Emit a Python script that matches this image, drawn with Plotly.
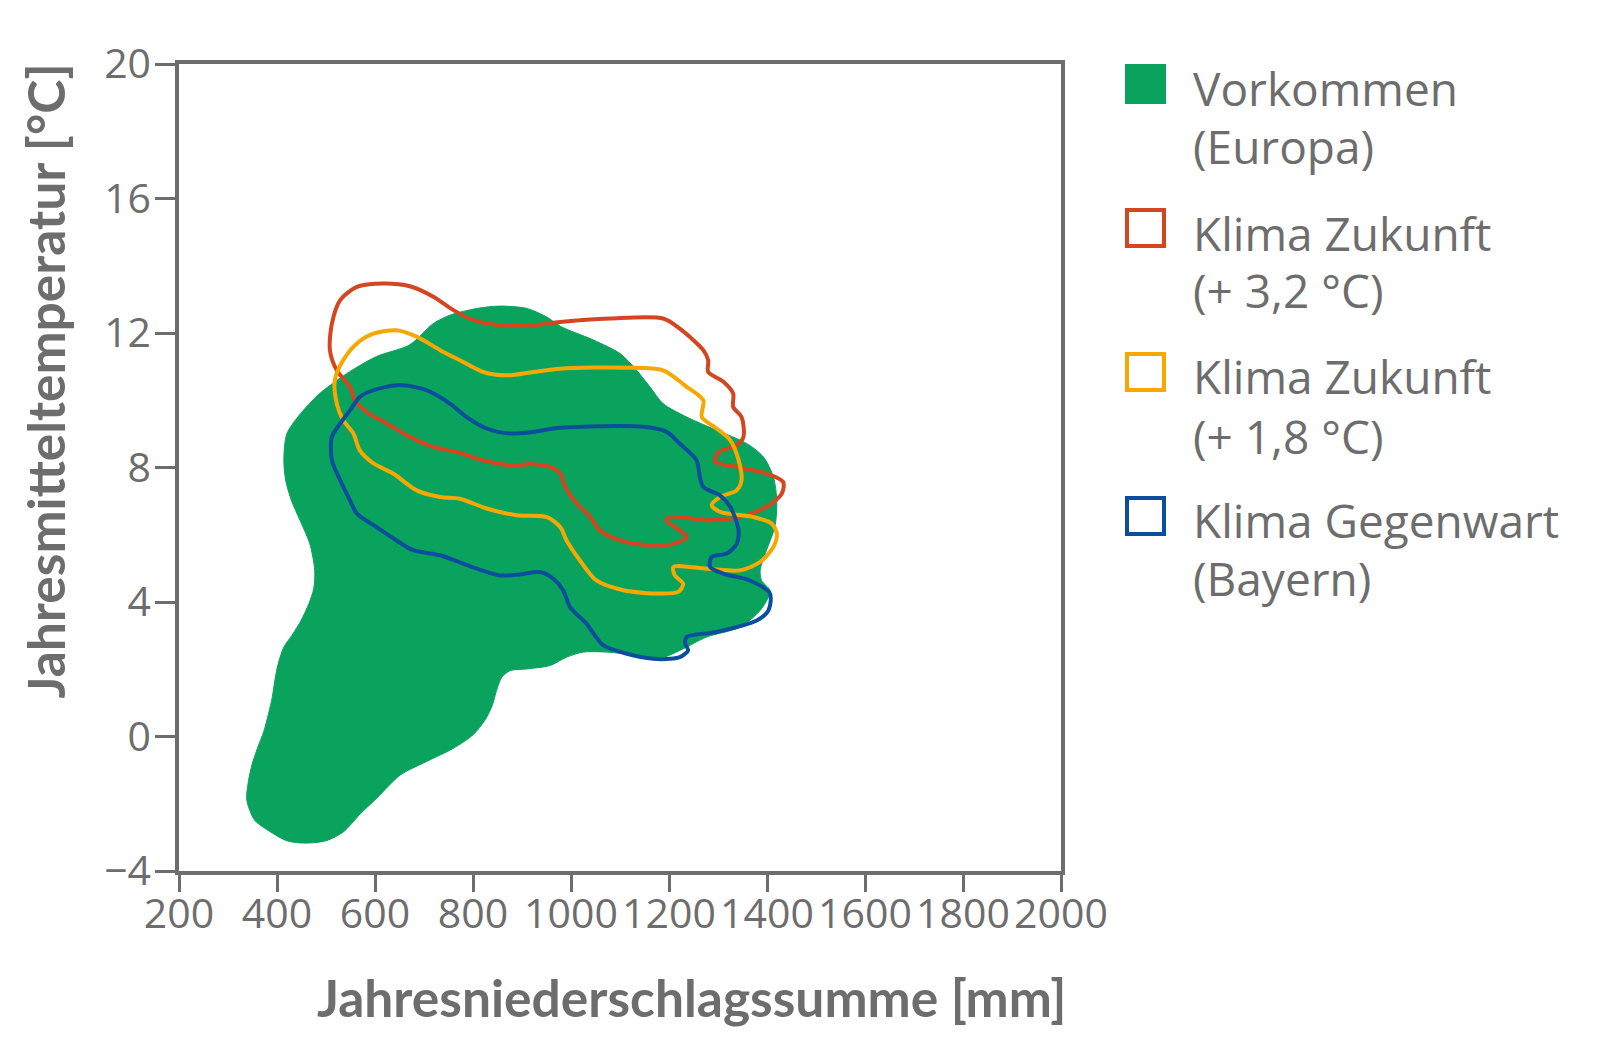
import plotly.graph_objects as go

# ---- data: annual precipitation [mm] and mean annual temperature [°C] ----
vork_mm = [855, 910, 950, 978, 1046, 1100, 1134, 1161, 1188, 1236, 1297, 1359, 1393, 1413, 1420, 1416, 1399, 1386, 1389, 1406,
           1403, 1386, 1345, 1277, 1222, 1188, 1141, 1073, 1025, 991, 957, 910, 876, 859, 848, 840, 825, 800, 760, 700,
           652, 604, 570, 536, 500, 454, 420, 386, 355, 342, 338, 342, 349, 360, 373, 383, 390, 396, 402, 414,
           430, 448, 465, 475, 477, 467, 447, 430, 418, 414, 420, 448, 487, 542, 603, 671, 719, 753, 808]
vork_t = [12.80, 12.73, 12.48, 12.2, 11.79, 11.39, 10.89, 10.40, 9.90, 9.50, 9.11, 8.71, 8.31, 7.72, 7.02, 6.23, 5.54, 4.94, 4.64, 4.35,
          4.15, 3.75, 3.25, 2.96, 2.56, 2.36, 2.41, 2.51, 2.51, 2.36, 2.11, 2.01, 1.96, 1.77, 1.37, 0.95, 0.5, 0.05, -0.35, -0.78,
          -1.14, -1.83, -2.3, -2.83, -3.1, -3.17, -3.1, -2.83, -2.5, -2.1, -1.83, -1.3, -0.84, -0.35, 0.15, 0.7, 1.14, 1.7, 2.14, 2.66,
          3.0, 3.42, 3.95, 4.4, 4.94, 5.73, 6.43, 7.0, 7.6, 8.21, 9.0, 9.60, 10.2, 10.79, 11.3, 11.65, 12.28, 12.53, 12.73]

z32_mm = [563, 617, 671, 719, 760, 801, 855, 923, 978, 1080, 1188, 1222, 1270, 1280, 1280, 1311, 1331, 1331, 1348, 1352,
          1338, 1301, 1294, 1338, 1399, 1433, 1430, 1399, 1345, 1284, 1202, 1195, 1222, 1236, 1209, 1161, 1100, 1059, 1039, 1012,
          988, 978, 957, 923, 876, 821, 767, 719, 671, 624, 583, 559, 549, 522, 508, 512, 529]
z32_t = [13.37, 13.47, 13.39, 13.08, 12.68, 12.38, 12.23, 12.23, 12.33, 12.43, 12.43, 12.13, 11.49, 11.19, 10.84, 10.55, 10.2, 9.80, 9.50, 8.91,
         8.66, 8.46, 8.17, 8.02, 7.82, 7.57, 7.22, 6.83, 6.53, 6.43, 6.53, 6.43, 6.13, 5.93, 5.73, 5.69, 5.83, 6.13, 6.53, 6.93,
         7.42, 7.82, 8.02, 8.10, 8.07, 8.21, 8.46, 8.61, 8.91, 9.31, 9.65, 10.00, 10.40, 10.89, 11.49, 12.28, 12.98]

z18_mm = [644, 685, 733, 773, 821, 869, 923, 978, 1114, 1188, 1236, 1270, 1267, 1297, 1325, 1342, 1348, 1338, 1304, 1287,
          1304, 1372, 1410, 1420, 1413, 1386, 1345, 1277, 1209, 1212, 1229, 1219, 1182, 1107, 1052, 1018, 991, 978, 950, 889,
          828, 773, 733, 685, 637, 597, 569, 556, 535, 522, 518, 535, 563, 597]
z18_t = [12.08, 11.89, 11.49, 11.19, 10.84, 10.74, 10.84, 10.94, 10.97, 10.89, 10.40, 10.0, 9.50, 9.16, 8.81, 8.22, 7.62, 7.32, 7.12, 6.88,
         6.68, 6.53, 6.33, 6.03, 5.64, 5.19, 4.94, 4.99, 5.04, 4.79, 4.54, 4.30, 4.25, 4.35, 4.64, 5.24, 5.83, 6.23, 6.53, 6.58,
         6.78, 7.07, 7.12, 7.32, 7.82, 8.12, 8.51, 9.01, 9.41, 9.90, 10.60, 11.19, 11.69, 11.98]

geg_mm = [651, 705, 753, 787, 828, 876, 923, 978, 1148, 1195, 1222, 1256, 1263, 1270, 1304, 1325, 1342, 1338, 1318, 1287,
          1284, 1311, 1365, 1406, 1403, 1379, 1297, 1236, 1233, 1239, 1222, 1202, 1168, 1114, 1066, 1046, 1032, 998, 984, 964,
          937, 896, 855, 808, 780, 733, 678, 644, 603, 563, 549, 529, 512, 512, 529, 549, 569, 597]
geg_t = [10.45, 10.30, 9.90, 9.50, 9.16, 9.01, 9.06, 9.18, 9.21, 9.06, 8.71, 8.22, 7.72, 7.42, 7.17, 6.83, 6.13, 5.73, 5.44, 5.34,
         5.04, 4.84, 4.64, 4.25, 3.75, 3.45, 3.11, 2.96, 2.76, 2.56, 2.36, 2.31, 2.31, 2.46, 2.71, 3.06, 3.35, 3.85, 4.35, 4.69,
         4.89, 4.82, 4.79, 4.99, 5.14, 5.39, 5.54, 5.83, 6.23, 6.63, 7.02, 7.62, 8.21, 8.91, 9.31, 9.70, 10.1, 10.30]

x_ticks = [200, 400, 600, 800, 1000, 1200, 1400, 1600, 1800, 2000]
y_ticks = [-4, 0, 4, 8, 12, 16, 20]

legend_labels = [["Vorkommen", "(Europa)"],
                 ["Klima Zukunft", "(+ 3,2 °C)"],
                 ["Klima Zukunft", "(+ 1,8 °C)"],
                 ["Klima Gegenwart", "(Bayern)"]]

# ---- styles ----
GREEN = "#0aa35e"
RED = "#d3461f"
YELLOW = "#f6a800"
BLUE = "#0b4f9c"
GRAY = "#6d6d6d"
W, H = 1600, 1060
OFF = 8                              # page body margin of the html page
L, R, T, B = 179, 1061, 64, 871      # desired plot area in screen pixels


def closed(a):
    return list(a) + [a[0]]


fig = go.Figure()
fig.add_trace(go.Scatter(x=closed(vork_mm), y=closed(vork_t), mode="lines", fill="toself",
                         fillcolor=GREEN, line=dict(color=GREEN, width=1, shape="spline", smoothing=0.8),
                         hoverinfo="skip"))
for xs, ys, col in [(z32_mm, z32_t, RED), (z18_mm, z18_t, YELLOW), (geg_mm, geg_t, BLUE)]:
    fig.add_trace(go.Scatter(x=closed(xs), y=closed(ys), mode="lines",
                             line=dict(color=col, width=4, shape="spline", smoothing=0.8),
                             hoverinfo="skip"))

axis_common = dict(showgrid=False, zeroline=False, showline=True, linecolor=GRAY, linewidth=3.5,
                   mirror=True, ticks="outside", tickcolor=GRAY, tickwidth=3,
                   tickfont=dict(family="Open Sans", size=41, color=GRAY))
fig.update_xaxes(range=[200, 2000], tickvals=x_ticks, ticklen=17, ticklabelstandoff=-13, **axis_common)
fig.update_yaxes(range=[-4, 20], tickvals=y_ticks, ticklen=20, ticklabelstandoff=-4, **axis_common)


def px_x(p):
    return (p - L) / (R - L)


def px_y(p):
    return (B - p) / (B - T)


title_font = dict(family="Lato", size=51.5, color=GRAY)
annotations = [
    dict(text="<b>Jahresniederschlagssumme [mm]</b>", xref="paper", yref="paper",
         x=px_x(1068), y=px_y(997), xanchor="right", yanchor="middle", showarrow=False, font=title_font),
    dict(text="<b>Jahresmitteltemperatur [°C]</b>", xref="paper", yref="paper", textangle=-90,
         x=px_x(45), y=px_y(62), xanchor="center", yanchor="top", showarrow=False, font=title_font),
]

shapes = []
colors = [GREEN, RED, YELLOW, BLUE]
box_tops = [64, 208, 352, 496]
line_mid = [[88, 146], [233, 290], [376, 436], [520, 578]]
leg_font = dict(family="Open Sans", size=46, color=GRAY)
for i, col in enumerate(colors):
    y0 = box_tops[i]
    if i == 0:
        shapes.append(dict(type="rect", xref="paper", yref="paper", x0=px_x(1125), x1=px_x(1166),
                           y0=px_y(y0), y1=px_y(y0 + 40), fillcolor=col, line=dict(width=0)))
    else:
        shapes.append(dict(type="rect", xref="paper", yref="paper", x0=px_x(1127), x1=px_x(1164),
                           y0=px_y(y0 + 2), y1=px_y(y0 + 38), fillcolor="rgba(0,0,0,0)",
                           line=dict(color=col, width=4)))
    for j, line in enumerate(legend_labels[i]):
        annotations.append(dict(text=line, xref="paper", yref="paper", x=px_x(1191), y=px_y(line_mid[i][j]),
                                xanchor="left", yanchor="middle", showarrow=False, font=leg_font))

fig.update_layout(width=W, height=H,
                  margin=dict(l=L - OFF, r=W - R + OFF, t=T - OFF, b=H - B + OFF),
                  paper_bgcolor="white", plot_bgcolor="white", showlegend=False,
                  annotations=annotations, shapes=shapes)

fig.write_html("out.html")
